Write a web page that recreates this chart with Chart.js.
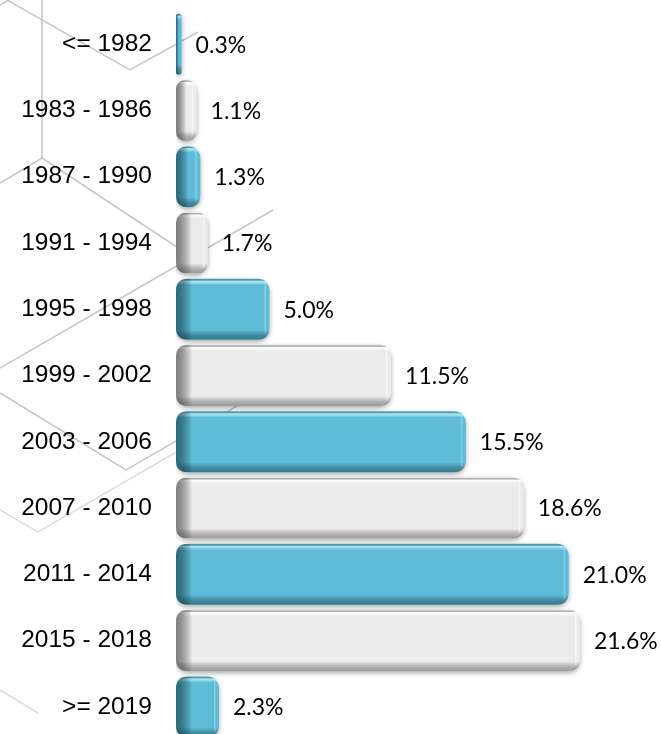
<!DOCTYPE html>
<html>
<head>
<meta charset="utf-8">
<script src="https://cdn.jsdelivr.net/npm/chart.js@4.4.0/dist/chart.umd.min.js"></script>
<style>
  html, body { margin: 0; padding: 0; background: #fff; }
  #wrap { width: 661px; height: 734px; overflow: hidden; position: relative; }
</style>
</head>
<body>
<div id="wrap">
  <canvas id="yearChart" width="661" height="750"></canvas>
</div>
<script>
const categories = ["<= 1982", "1983 - 1986", "1987 - 1990", "1991 - 1994", "1995 - 1998", "1999 - 2002",
  "2003 - 2006", "2007 - 2010", "2011 - 2014", "2015 - 2018", ">= 2019"];
const shares = [0.3, 1.1, 1.3, 1.7, 5.0, 11.5, 15.5, 18.6, 21.0, 21.6, 2.3];

// light grey hexagon pattern behind the chart
const hexLines = [
  { c: "#c4c7ca", pts: [[0, -4], [130, 70], [198, 32]] },
  { c: "#c4c7ca", pts: [[0, 5], [16, -4]] },
  { c: "#c4c7ca", pts: [[42, 0], [42, 158], [0, 183]] },
  { c: "#c4c7ca", pts: [[42, 158], [192, 257], [273, 210]] },
  { c: "#c4c7ca", pts: [[192, 257], [0, 368]] },
  { c: "#c4c7ca", pts: [[0, 393], [126, 470], [275, 384]] },
  { c: "#dcdcdc", pts: [[180, 450], [38, 532], [0, 510]] },
  { c: "#dcdcdc", pts: [[0, 690], [38, 713]] }
];

const themes = [
  { fill: "#5ebcd7", edge: "rgba(20,80,100,0.75)", bottom: "rgba(20,80,100,0.6)", shine: "rgba(170,240,250,0.9)" },
  { fill: "#ebebeb", edge: "rgba(90,90,90,0.75)", bottom: "rgba(90,90,90,0.55)", shine: "rgba(255,255,255,1)" }
];

function roundRectPath(ctx, x, y, w, h, r) {
  r = Math.min(r, w / 2, h / 2);
  ctx.beginPath();
  ctx.moveTo(x + r, y);
  ctx.lineTo(x + w - r, y);
  ctx.quadraticCurveTo(x + w, y, x + w, y + r);
  ctx.lineTo(x + w, y + h - r);
  ctx.quadraticCurveTo(x + w, y + h, x + w - r, y + h);
  ctx.lineTo(x + r, y + h);
  ctx.quadraticCurveTo(x, y + h, x, y + h - r);
  ctx.lineTo(x, y + r);
  ctx.quadraticCurveTo(x, y, x + r, y);
  ctx.closePath();
}

const backdrop = {
  id: "backdrop",
  beforeDraw(chart) {
    const ctx = chart.ctx;
    ctx.save();
    ctx.lineWidth = 1.5;
    hexLines.forEach(l => {
      ctx.strokeStyle = l.c;
      ctx.beginPath();
      l.pts.forEach((p, i) => i ? ctx.lineTo(p[0], p[1]) : ctx.moveTo(p[0], p[1]));
      ctx.stroke();
    });
    ctx.restore();
  }
};

const bevelBars = {
  id: "bevelBars",
  beforeDatasetsDraw(chart) {
    const ctx = chart.ctx;
    ctx.save();
    ctx.shadowColor = "rgba(0,0,0,0.35)";
    ctx.shadowBlur = 5;
    ctx.shadowOffsetY = 2;
  },
  afterDatasetsDraw(chart) {
    const ctx = chart.ctx;
    ctx.restore();
    const meta = chart.getDatasetMeta(0);
    meta.data.forEach((bar, i) => {
      const t = themes[i % 2];
      const left = bar.base, w = bar.x - bar.base;
      const top = bar.y - bar.height / 2, h = bar.height;
      ctx.save();
      roundRectPath(ctx, left, top, w, h, 12);
      ctx.clip();
      // top shine and bottom shade
      let g = ctx.createLinearGradient(0, top, 0, top + h);
      g.addColorStop(0, "rgba(0,0,0,0.08)");
      g.addColorStop(0.04, t.shine);
      g.addColorStop(0.1, "rgba(255,255,255,0)");
      g.addColorStop(0.84, "rgba(0,0,0,0)");
      g.addColorStop(1, t.bottom);
      ctx.fillStyle = g;
      ctx.fillRect(left, top, w, h);
      // dark rounded left side
      const lw = Math.min(16, w / 2);
      g = ctx.createLinearGradient(left, 0, left + lw, 0);
      g.addColorStop(0, t.edge);
      g.addColorStop(1, "rgba(0,0,0,0)");
      ctx.fillStyle = g;
      ctx.fillRect(left, top, lw, h);
      // faint light line near the right end
      if (w > 14) {
        ctx.fillStyle = t.shine;
        ctx.globalAlpha = 0.5;
        ctx.fillRect(left + w - 5, top + 4, 1.5, h - 10);
        ctx.globalAlpha = 1;
      }
      ctx.restore();

      ctx.save();
      ctx.fillStyle = "#000";
      ctx.font = "23px Lato, 'Open Sans', sans-serif";
      ctx.textBaseline = "middle";
      ctx.fillText(shares[i].toFixed(1) + "%", bar.x + 14, bar.y + 1);
      ctx.restore();
    });
  }
};

new Chart(document.getElementById("yearChart"), {
  type: "bar",
  data: {
    labels: categories,
    datasets: [{
      data: shares,
      backgroundColor: ctx => themes[ctx.dataIndex % 2].fill,
      borderWidth: 0,
      borderRadius: 12,
      borderSkipped: false,
      barPercentage: 0.92,
      categoryPercentage: 1
    }]
  },
  options: {
    indexAxis: "y",
    responsive: false,
    animation: false,
    layout: { padding: { top: 11, bottom: 10, left: 0, right: 17.5 } },
    plugins: { legend: { display: false }, tooltip: { enabled: false } },
    scales: {
      x: { display: false, min: 0, max: 25 },
      y: {
        afterFit: scale => {
          scale.width = 176;
          scale.paddingTop = 0;
          scale.paddingBottom = 0;
        },
        grid: { display: false, drawTicks: false },
        border: { display: false },
        ticks: {
          padding: 24,
          color: "#000",
          font: { family: "'Liberation Sans', Arial, sans-serif", size: 24.5 }
        }
      }
    }
  },
  plugins: [backdrop, bevelBars]
});
</script>
</body>
</html>
